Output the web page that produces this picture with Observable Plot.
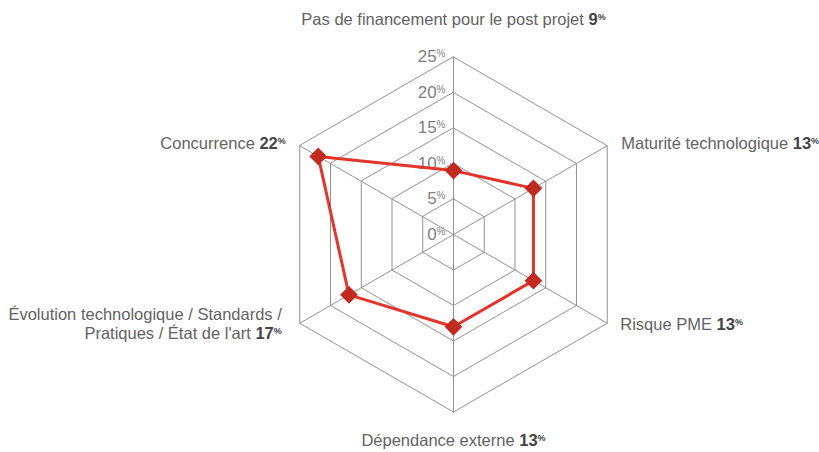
<!DOCTYPE html>
<html><head><meta charset="utf-8">
<script src="https://cdn.jsdelivr.net/npm/d3@7"></script>
<script src="https://cdn.jsdelivr.net/npm/@observablehq/plot@0.6"></script>
<style>body{margin:0;background:#fff}</style>
</head><body><div id="chart"></div>
<script>
const categories = [
  "Pas de financement pour le post projet",
  "Maturité technologique",
  "Risque PME",
  "Dépendance externe",
  "Évolution technologique / Standards /\nPratiques / État de l'art",
  "Concurrence"
];
const values = [9, 13, 13, 13, 17, 22];
const ticks = [0, 5, 10, 15, 20, 25];
const maxValue = 25;

// layout (not data)
const labelLayout = [
  {textAnchor: "middle", dx: 0, dy: -38},
  {textAnchor: "start", dx: 14, dy: -3},
  {textAnchor: "start", dx: 13, dy: 0},
  {textAnchor: "middle", dx: 0, dy: 28},
  {textAnchor: "end", dx: -18, dy: 0},
  {textAnchor: "end", dx: -14, dy: -3}
];

const n = categories.length;
const ang = i => (2 * Math.PI * i) / n;
const px = (i, v) => v * Math.sin(ang(i));
const py = (i, v) => v * Math.cos(ang(i));

const rings = ticks.filter(t => t > 0).flatMap(t => d3.range(n).map(i => ({ring: t, i})));
const spokes = d3.range(n).flatMap(i => [{i, v: 0}, {i, v: maxValue}]);
const series = values.map((v, i) => ({i, v, name: categories[i]}));
const tickData = ticks.map(t => ({t}));

const font = "Helvetica, 'Liberation Sans', Arial, sans-serif";

const labelMarks = series.map((d, i) => Plot.text([d], {
  x: d => px(d.i, maxValue),
  y: d => py(d.i, maxValue),
  text: d => d.name + " " + d.v + "%",
  textAnchor: labelLayout[i].textAnchor,
  dx: labelLayout[i].dx,
  dy: labelLayout[i].dy,
  fontSize: 16.5,
  lineHeight: 1.2,
  fill: "#636363"
}));

const plot = Plot.plot({
  width: 819,
  height: 452,
  margin: 0,
  style: {fontFamily: font, background: "#fff"},
  x: {domain: [-maxValue, maxValue], range: [275.5, 630.5], axis: null},
  y: {domain: [-maxValue, maxValue], range: [411.5, 56.5], axis: null},
  marks: [
    Plot.line(rings, {x: d => px(d.i, d.ring), y: d => py(d.i, d.ring), z: "ring", curve: "linear-closed", stroke: "#929292", strokeWidth: 1}),
    Plot.line(spokes, {x: d => px(d.i, d.v), y: d => py(d.i, d.v), z: "i", stroke: "#929292", strokeWidth: 1}),
    Plot.text(tickData, {x: () => 0, y: d => d.t, text: d => d.t + "%", textAnchor: "end", dx: -8, fontSize: 17, fill: "#7f7f7f"}),
    Plot.line(series, {x: d => px(d.i, d.v), y: d => py(d.i, d.v), curve: "linear-closed", stroke: "#e3352b", strokeWidth: 3}),
    Plot.dot(series, {x: d => px(d.i, d.v), y: d => py(d.i, d.v), symbol: "diamond2", r: 8, fill: "#c22a20", stroke: "none"}),
    ...labelMarks
  ]
});

const SVGNS = "http://www.w3.org/2000/svg";
function rework(target) {
  const m = target.textContent.match(/^([\s\S]*?)(\d+)%$/);
  if (!m) return;
  const bold = m[1].length > 0;
  while (target.firstChild) target.removeChild(target.firstChild);
  if (bold) {
    const a = document.createElementNS(SVGNS, "tspan");
    a.textContent = m[1];
    target.appendChild(a);
  }
  const b = document.createElementNS(SVGNS, "tspan");
  b.textContent = m[2];
  if (bold) { b.setAttribute("font-weight", "bold"); b.setAttribute("fill", "#444"); }
  target.appendChild(b);
  const c = document.createElementNS(SVGNS, "tspan");
  c.textContent = "%";
  c.setAttribute("font-size", bold ? 9 : 10);
  c.setAttribute("dy", -5);
  if (bold) { c.setAttribute("font-weight", "bold"); c.setAttribute("fill", "#444"); }
  target.appendChild(c);
}
Array.from(plot.querySelectorAll("text")).forEach(el => {
  const tspans = el.querySelectorAll("tspan");
  const target = tspans.length ? tspans[tspans.length - 1] : el;
  rework(target);
});

document.getElementById("chart").appendChild(plot);
</script>
</body></html>
